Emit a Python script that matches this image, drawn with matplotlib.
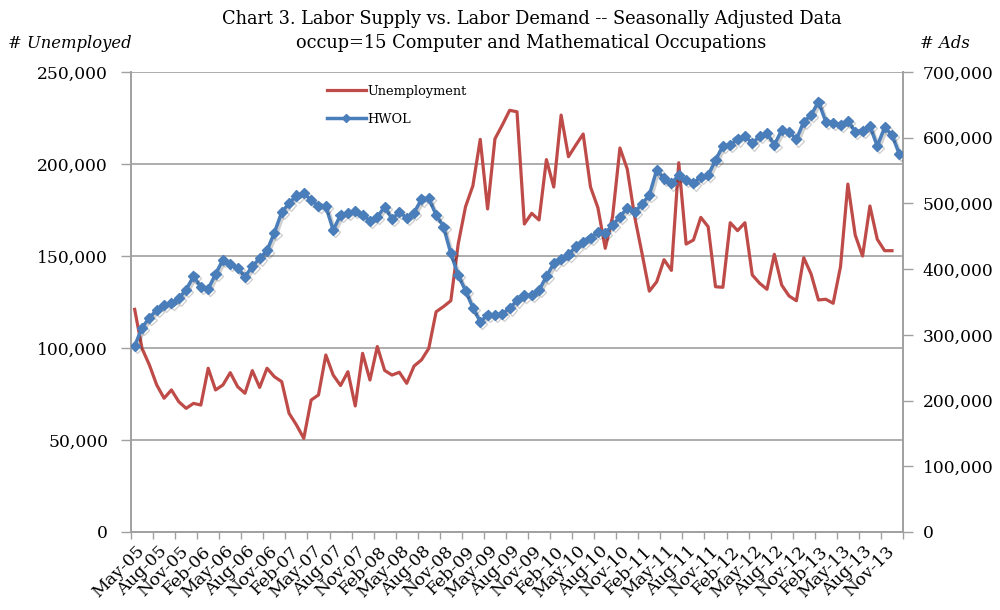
import matplotlib
matplotlib.use("Agg")
import matplotlib.pyplot as plt
import matplotlib.patheffects as pe
from matplotlib.lines import Line2D
from matplotlib.ticker import FuncFormatter, FixedLocator
import numpy as np

# ---------------- data ----------------
tick_labels = ['May-05', 'Aug-05', 'Nov-05', 'Feb-06', 'May-06', 'Aug-06', 'Nov-06',
               'Feb-07', 'May-07', 'Aug-07', 'Nov-07', 'Feb-08', 'May-08', 'Aug-08',
               'Nov-08', 'Feb-09', 'May-09', 'Aug-09', 'Nov-09', 'Feb-10', 'May-10',
               'Aug-10', 'Nov-10', 'Feb-11', 'May-11', 'Aug-11', 'Nov-11', 'Feb-12',
               'May-12', 'Aug-12', 'Nov-12', 'Feb-13', 'May-13', 'Aug-13', 'Nov-13']

# monthly, May-05 .. Dec-13 (104 values)
unemployment = [121000, 99800, 90800, 79900, 72700, 77200, 70800, 67200, 69900, 69000,
                89000, 77200, 79900, 86600, 79000, 75400, 87700, 78600, 89000, 84400,
                81700, 64500, 58200, 50900, 71700, 74500, 96200, 85300, 79600, 87100,
                68500, 97100, 82600, 100800, 87800, 85300, 86800, 80800, 90200, 93500,
                99800, 119700, 122500, 125700, 156500, 176800, 188200, 213400, 175600, 213700,
                221200, 229200, 228400, 167400, 173200, 169600, 202400, 187500, 226600, 204000,
                210300, 216300, 187500, 176300, 154200, 171400, 208700, 197200, 171400, 151500,
                130900, 136000, 148000, 142200, 200700, 156500, 158700, 171000, 165900, 133300,
                133000, 168100, 163800, 168100, 139700, 135200, 131900, 150900, 134200, 128300,
                125700, 149100, 140200, 126100, 126500, 124300, 144200, 189100, 161400, 150000,
                177200, 159100, 152900, 152900]

# monthly, May-05 .. Jan-14 (105 values)
hwol = [283000, 311000, 326000, 338000, 345000, 348500, 355600, 368800, 389000, 372800,
        370000, 392300, 414500, 407800, 401700, 388500, 404200, 416500, 428500, 455500,
        486700, 500200, 512000, 515400, 505200, 495800, 495500, 459500, 482400, 485000,
        489000, 483000, 473400, 479300, 495000, 476500, 486700, 478300, 486000, 506200,
        507800, 482400, 464600, 424000, 391000, 367200, 341300, 320000, 330200, 330000,
        332300, 340400, 352500, 360000, 360600, 368000, 389000, 408800, 415200, 422300,
        434500, 441000, 447500, 457000, 455000, 467100, 479800, 493300, 486700, 499300,
        512800, 551000, 538000, 530600, 543200, 535600, 530600, 540700, 543000, 566000,
        587400, 589000, 597500, 602600, 591500, 602600, 606700, 589000, 611700, 609000,
        597500, 624400, 634500, 654800, 624400, 622900, 619300, 625900, 609000, 610600,
        617800, 587400, 615800, 604000, 575200]

# ---------------- style ----------------
FONT = ['DejaVu Serif']
plt.rcParams['font.family'] = FONT
RED = '#BE4B48'
BLUE = '#4A7EBB'
GRID = '#A0A0A0'

fig = plt.figure(figsize=(10, 6.1), dpi=100)
ax = fig.add_axes([0.131, 0.1279, 0.772, 0.754])
ax2 = ax.twinx()

n_cat = len(hwol)
x_u = np.arange(len(unemployment))
x_h = np.arange(len(hwol))

ax.plot(x_u, unemployment, color=RED, lw=2.3, solid_joinstyle='round', zorder=3)
ax2.plot(x_h, hwol, color=BLUE, lw=2.5, marker='D', markersize=5.2,
         markeredgecolor=BLUE, markerfacecolor=BLUE, zorder=3,
         path_effects=[pe.SimpleLineShadow(offset=(1.5, -1.5), alpha=0.18, shadow_color='black'),
                       pe.Normal()])

ax.set_xlim(-0.5, n_cat - 0.5)
ax.set_ylim(0, 250000)
ax2.set_ylim(0, 700000)

# left axis
ax.set_yticks(np.arange(0, 250001, 50000))
ax.yaxis.set_major_formatter(FuncFormatter(lambda v, p: f"{int(v):,}"))
ax.tick_params(axis='y', direction='out', length=7, width=1, color=GRID, pad=9.5,
               labelsize=12.3)
ax.grid(axis='y', color=GRID, lw=1.2)
ax.set_axisbelow(True)

# right axis
ax2.set_yticks(np.arange(0, 700001, 100000))
ax2.yaxis.set_major_formatter(FuncFormatter(lambda v, p: f"{int(v):,}"))
ax2.tick_params(axis='y', direction='out', length=7, width=1, color=GRID, pad=7,
                labelsize=12.3)

# x axis: ticks between groups of 3 categories, labels centred in groups
ax.xaxis.set_major_locator(FixedLocator(np.arange(-0.5, n_cat, 3)))
ax.xaxis.set_minor_locator(FixedLocator(np.arange(len(tick_labels)) * 3 + 1))
ax.tick_params(axis='x', which='major', direction='out', length=5, width=1, color=GRID,
               labelbottom=False)
ax.tick_params(axis='x', which='minor', length=0, pad=12, labelsize=12.5)
ax.set_xticklabels(tick_labels, minor=True, rotation=45, ha='right', va='center',
                   rotation_mode='anchor')
ax2.tick_params(axis='x', which='both', length=0)

for a in (ax, ax2):
    a.spines['top'].set_visible(False)
    for side in ('left', 'right', 'bottom'):
        a.spines[side].set_color(GRID)
        a.spines[side].set_linewidth(1.2)

# legend
handles = [Line2D([], [], color=RED, lw=2.3),
           Line2D([], [], color=BLUE, lw=2.5, marker='D', markersize=4)]
leg = ax2.legend(handles, ['Unemployment', 'HWOL'], loc='upper left',
                 bbox_to_anchor=(0.254, 0.972), frameon=False, fontsize=9.3,
                 handlelength=3.0, handletextpad=0.1, labelspacing=1.15,
                 borderpad=0, borderaxespad=0)

# titles
fig.text(0.5315, 0.969, 'Chart 3. Labor Supply vs. Labor Demand -- Seasonally Adjusted Data',
         ha='center', va='center', fontsize=12.8)
fig.text(0.5315, 0.9295, 'occup=15 Computer and Mathematical Occupations',
         ha='center', va='center', fontsize=12.8)
fig.text(0.008, 0.9295, '# Unemployed', ha='left', va='center', fontsize=11.8,
         style='italic')
fig.text(0.920, 0.9295, '# Ads', ha='left', va='center', fontsize=11.8, style='italic')

fig.savefig('out.png', dpi=100)
